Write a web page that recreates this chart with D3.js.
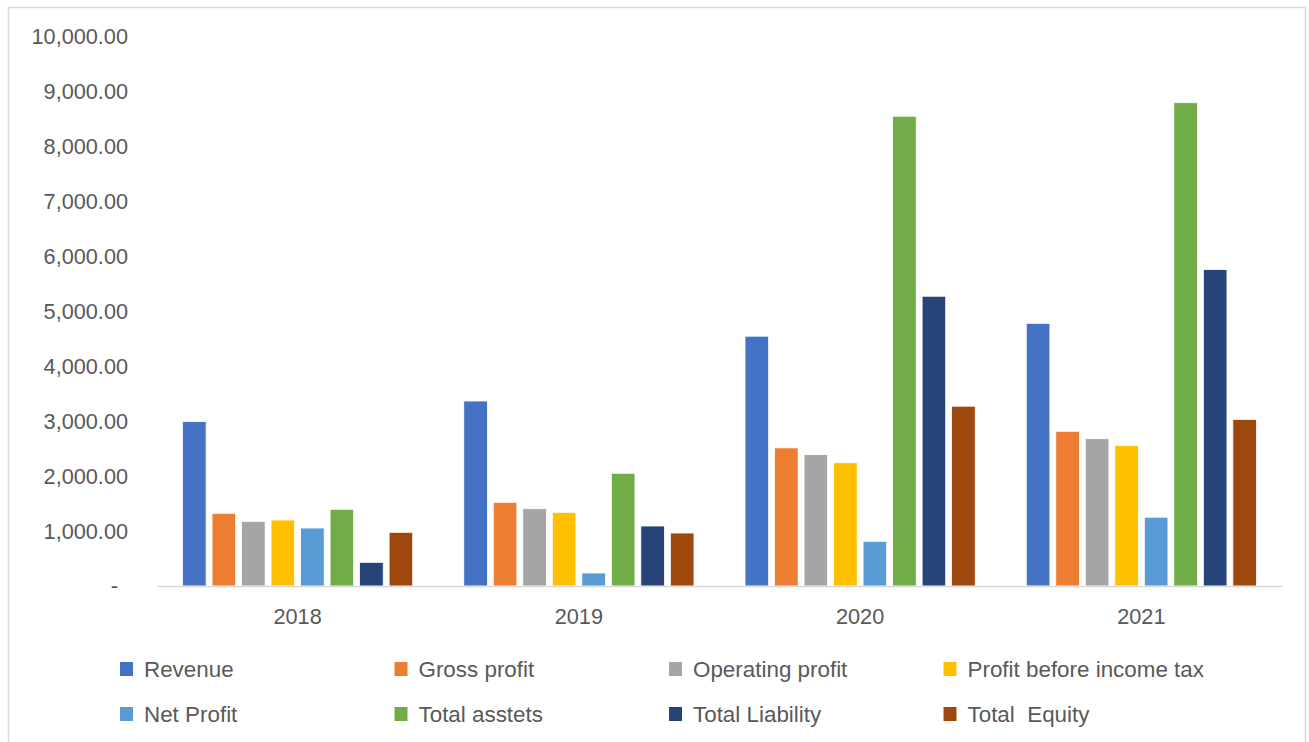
<!DOCTYPE html>
<html>
<head>
<meta charset="utf-8">
<script src="https://cdn.jsdelivr.net/npm/d3@7"></script>
<style>
  html, body { margin: 0; padding: 0; background: #fff; }
  svg { display: block; font-family: "Liberation Sans", Arial, sans-serif; }
</style>
</head>
<body>
<svg id="chart" width="1309" height="742"></svg>
<script>
// ---- Data ----
const years = ["2018", "2019", "2020", "2021"];
const seriesNames = ["Revenue", "Gross profit", "Operating profit", "Profit before income tax",
                     "Net Profit", "Total asstets", "Total Liability", "Total  Equity"];
const revenue      = [2995, 3370, 4550, 4785];
const grossProfit  = [1324, 1524, 2516, 2818];
const operating    = [1178, 1408, 2393, 2683];
const profitBefore = [1202, 1342, 2245, 2559];
const netProfit    = [1056,  237,  814, 1253];
const totalAssets  = [1397, 2053, 8557, 8803];
const totalLiab    = [ 431, 1093, 5278, 5765];
const totalEquity  = [ 978,  965, 3275, 3035];
const yTicks = [0, 1000, 2000, 3000, 4000, 5000, 6000, 7000, 8000, 9000, 10000];
const colors = ["#4472C4", "#ED7D31", "#A5A5A5", "#FFC000", "#5B9BD5", "#70AD47", "#264478", "#9E480E"];

const seriesValues = [revenue, grossProfit, operating, profitBefore, netProfit, totalAssets, totalLiab, totalEquity];

const svg = d3.select("#chart");

// outer border
svg.append("rect").attr("x", 8.5).attr("y", 7.5).attr("width", 1297).attr("height", 740)
  .attr("fill", "none").attr("stroke", "#d9d9d9").attr("stroke-width", 1.5);

const plotLeft = 157, plotRight = 1282, plotTop = 37, plotBottom = 586;

const y = d3.scaleLinear().domain([0, 10000]).range([plotBottom, plotTop]);
const x0 = d3.scaleBand().domain(years).range([plotLeft, plotRight]).paddingInner(0).paddingOuter(0);
const x1 = d3.scaleBand().domain(seriesNames).range([0, x0.bandwidth()]).paddingInner(0.2).paddingOuter(0.865);
const color = d3.scaleOrdinal().domain(seriesNames).range(colors);

const fmt = d3.format(",.2f");

// y axis labels
const yAxis = d3.axisLeft(y).tickValues(yTicks).tickSize(0).tickPadding(0)
  .tickFormat(d => d === 0 ? "-" : fmt(d));
const yg = svg.append("g").attr("transform", `translate(128,0)`).call(yAxis);
yg.select(".domain").remove();
yg.selectAll("text").attr("font-size", 21.7).attr("fill", "#595959")
  .attr("font-family", "'Liberation Sans', Arial, sans-serif")
  .attr("dx", d => d === 0 ? -10 : 0);

// bars
const rows = years.map((yr, i) => ({ year: yr, vals: seriesNames.map((s, j) => ({ key: s, value: seriesValues[j][i] })) }));
const groups = svg.append("g").selectAll("g").data(rows).join("g")
  .attr("transform", d => `translate(${x0(d.year)},0)`);
groups.selectAll("rect").data(d => d.vals).join("rect")
  .attr("x", d => x1(d.key))
  .attr("y", d => y(d.value))
  .attr("width", x1.bandwidth())
  .attr("height", d => y(0) - y(d.value))
  .attr("fill", d => color(d.key))
  .attr("stroke", "#ffffff").attr("stroke-width", 0.8);

// x axis
const xAxis = d3.axisBottom(x0).tickSize(0).tickPadding(0);
const xg = svg.append("g").attr("transform", `translate(0,${plotBottom})`).call(xAxis);
xg.select(".domain").attr("stroke", "#d9d9d9").attr("stroke-width", 1.5);
xg.selectAll("text").attr("font-size", 21.7).attr("fill", "#595959")
  .attr("font-family", "'Liberation Sans', Arial, sans-serif")
  .attr("dy", 0).attr("y", 38);

// legend
const legend = svg.append("g");
const legItems = legend.selectAll("g").data(seriesNames).join("g")
  .attr("transform", (d, i) => `translate(${120 + (i % 4) * 274.5},${i < 4 ? 669 : 714})`);
legItems.append("rect").attr("x", 0).attr("y", -7).attr("width", 13).attr("height", 14)
  .attr("fill", d => color(d));
legItems.append("text").attr("x", 24).attr("y", 0).attr("dy", "0.35em")
  .attr("font-size", 22.4).attr("fill", "#595959")
  .attr("xml:space", "preserve").style("white-space", "pre")
  .text(d => d);
</script>
</body>
</html>
